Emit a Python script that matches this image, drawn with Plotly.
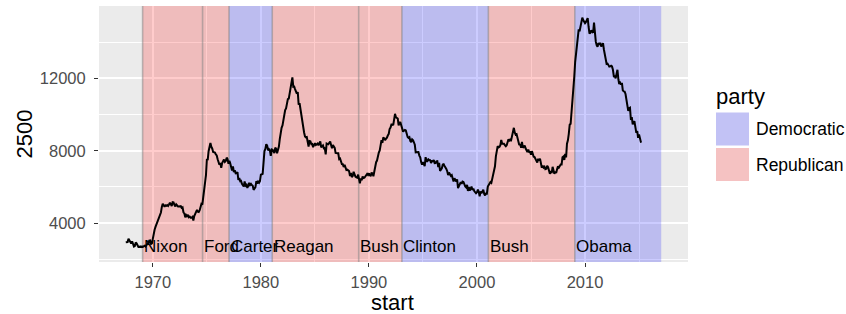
import pandas as pd
import plotly.graph_objects as go

# ---------------- data ----------------
series_start = "1967-07-01"
unemploy = [
    2944, 2945, 2958, 3143, 3066, 3018,
    2878, 3001, 2877, 2709, 2740, 2938, 2883, 2768, 2686, 2689, 2715, 2685,
    2718, 2692, 2712, 2758, 2713, 2816, 2868, 2856, 3040, 3049, 2856, 2884,
    3201, 3453, 3635, 3797, 3919, 4071, 4175, 4256, 4456, 4591, 4898, 5076,
    4986, 4903, 4987, 4959, 4996, 4949, 5035, 5134, 5042, 4954, 5161, 5154,
    5019, 4928, 5038, 4959, 4922, 4923, 4913, 4939, 4849, 4875, 4602, 4543,
    4326, 4452, 4394, 4459, 4329, 4363, 4305, 4305, 4350, 4144, 4396, 4489,
    4644, 4731, 4634, 4618, 4705, 4927, 5063, 5022, 5437, 5523, 6140, 6636,
    7501, 7520, 7978, 8210, 8433, 8220, 8127, 7928, 7923, 7897, 7794, 7744,
    7534, 7326, 7230, 7330, 7053, 7322, 7490, 7518, 7380, 7430, 7620, 7545,
    7280, 7443, 7307, 7059, 6911, 7134, 6829, 6925, 6751, 6763, 6815, 6386,
    6489, 6318, 6337, 6180, 6127, 6028, 6309, 6080, 6125, 5947, 6077, 6228,
    6109, 6173, 6109, 6069, 5840, 5959, 5996, 6320, 6190, 6296, 6238, 6325,
    6683, 6702, 6729, 7358, 7984, 8098, 8363, 8281, 8021, 8088, 8023, 7718,
    8071, 8051, 7982, 7869, 8174, 8098, 7863, 8036, 8230, 8646, 9029, 9267,
    9397, 9705, 9895, 10244, 10335, 10538, 10849, 10881, 11217, 11529, 11938, 12051,
    11534, 11545, 11408, 11268, 11154, 11246, 10548, 10623, 10282, 9887, 9499, 9331,
    9008, 8791, 8746, 8762, 8456, 8226, 8537, 8519, 8367, 8381, 8198, 8358,
    8423, 8321, 8339, 8395, 8302, 8460, 8513, 8196, 8248, 8298, 8128, 8138,
    7795, 8402, 8383, 8364, 8439, 8508, 8319, 8135, 8310, 8243, 8159, 7883,
    7892, 7865, 7862, 7542, 7574, 7398, 7268, 7261, 7102, 7227, 7035, 6936,
    6953, 6929, 6876, 6601, 6779, 6546, 6605, 6843, 6604, 6568, 6537, 6518,
    6682, 6359, 6205, 6468, 6375, 6577, 6495, 6511, 6590, 6630, 6725, 6667,
    6752, 6651, 6598, 6797, 6742, 6590, 6922, 7188, 7368, 7459, 7764, 7901,
    8015, 8265, 8586, 8439, 8736, 8692, 8586, 8666, 8722, 8842, 8931, 9198,
    9283, 9454, 9460, 9415, 9744, 10040, 9850, 9787, 9781, 9398, 9565, 9557,
    9325, 9183, 9056, 9110, 9149, 9121, 8930, 8763, 8714, 8750, 8542, 8477,
    8630, 8583, 8470, 8331, 7915, 7927, 7946, 7933, 7734, 7632, 7375, 7230,
    7375, 7187, 7153, 7645, 7430, 7427, 7527, 7484, 7478, 7328, 7426, 7423,
    7491, 7313, 7318, 7415, 7423, 7095, 7337, 6882, 6979, 7031, 7236, 7253,
    7158, 7102, 7000, 6873, 6655, 6799, 6655, 6608, 6656, 6454, 6308, 6476,
    6368, 6306, 6422, 5941, 6047, 6212, 6259, 6179, 6300, 6280, 6100, 6032,
    5976, 6111, 5783, 6004, 5796, 5951, 6025, 5838, 5915, 5778, 5716, 5653,
    5708, 5858, 5733, 5481, 5758, 5651, 5747, 5853, 5625, 5534, 5639, 5634,
    6023, 6089, 6141, 6271, 6226, 6484, 6583, 7042, 7142, 7694, 8003, 8258,
    8182, 8215, 8304, 8599, 8399, 8393, 8390, 8304, 8251, 8307, 8520, 8640,
    8520, 8618, 8588, 8842, 8957, 9266, 9011, 8896, 8921, 8732, 8576, 8317,
    8370, 8167, 8491, 8170, 8212, 8286, 8136, 7990, 7927, 8061, 7932, 7934,
    7784, 7980, 7737, 7672, 7651, 7524, 7406, 7345, 7553, 7453, 7566, 7279,
    7064, 7184, 7072, 7120, 6980, 7001, 7175, 7091, 6847, 6727, 6872, 6762,
    7116, 6927, 6731, 6850, 6766, 6979, 7149, 7067, 7170, 7237, 7240, 7645,
    7685, 7497, 7822, 7637, 8395, 8575, 8937, 9438, 9494, 10074, 10538, 11286,
    12058, 12898, 13426, 13853, 14499, 14707, 14601, 14814, 15009, 15352, 15219, 15098,
    15046, 15113, 15202, 15325, 14849, 14474, 14512, 14648, 14579, 14516, 15081, 14348,
    14013, 13820, 13737, 13957, 13855, 13962, 13763, 13818, 13948, 13594, 13302, 13093,
    12797, 12813, 12713, 12646, 12660, 12692, 12656, 12471, 12115, 12124, 12005, 12298,
    12471, 11950, 11689, 11760, 11654, 11751, 11335, 11279, 11270, 11136, 10787, 10404,
    10202, 10349, 10380, 9702, 9859, 9460, 9608, 9599, 9262, 8990, 9090, 8717,
    8903, 8610, 8504, 8526,
]
pres_names = ["Nixon", "Ford", "Carter", "Reagan", "Bush", "Clinton", "Bush", "Obama"]
pres_start = ["1969-01-20", "1974-08-09", "1977-01-20", "1981-01-20",
              "1989-01-20", "1993-01-20", "2001-01-20", "2009-01-20"]
pres_end = ["1974-08-09", "1977-01-20", "1981-01-20", "1989-01-20",
            "1993-01-20", "2001-01-20", "2009-01-20", "2017-01-20"]
pres_party = ["Republican", "Republican", "Democratic", "Republican",
              "Republican", "Democratic", "Republican", "Democratic"]
label_y = 2500
party_levels = ["Democratic", "Republican"]
y_ticks = [4000, 8000, 12000]
x_title, y_title, legend_title = "start", "2500", "party"

# ---------------- styling ----------------
W, H = 846, 314
ML, MR, MT, MB = 99, 158, 6, 52
FONT = "Liberation Sans, Arial, Helvetica, sans-serif"
fill_rgba = {"Democratic": "rgba(0,0,255,0.2)", "Republican": "rgba(255,0,0,0.2)"}
key_fill = {"Democratic": "rgb(194,194,245)", "Republican": "rgb(245,194,194)"}

dates = pd.date_range(series_start, periods=len(unemploy), freq="MS")
starts = pd.to_datetime(pres_start)
ends = pd.to_datetime(pres_end)

# ggplot-like 5% expansion
xmin = min(dates.min(), starts.min())
xmax = max(dates.max(), ends.max())
xpad = (xmax - xmin) * 0.05
ymin = min(min(unemploy), label_y)
ymax = max(unemploy)
ypad = (ymax - ymin) * 0.05
y_lo, y_hi = ymin - ypad, ymax + ypad

fig = go.Figure()

# presidential rectangles (ymin=-Inf, ymax=Inf) as filled traces above the grid
for s, e, p in zip(starts, ends, pres_party):
    fig.add_trace(go.Scatter(x=[s, s, e, e, s], y=[y_lo, y_hi, y_hi, y_lo, y_lo],
                             mode="lines", fill="toself", fillcolor=fill_rgba[p],
                             line=dict(width=0), showlegend=False, hoverinfo="skip"))
# vertical lines at term starts
for s in starts:
    fig.add_trace(go.Scatter(x=[s, s], y=[y_lo, y_hi], mode="lines",
                             line=dict(color="rgba(127,127,127,0.5)", width=1.6),
                             showlegend=False, hoverinfo="skip"))

fig.add_trace(go.Scatter(x=dates, y=unemploy, mode="lines",
                         line=dict(color="black", width=2), showlegend=False,
                         hoverinfo="skip"))

annotations = []
for n, s in zip(pres_names, starts):
    annotations.append(dict(x=s + pd.Timedelta(days=50), y=label_y, xref="x", yref="y",
                            text=n, showarrow=False, xanchor="left", yanchor="bottom",
                            yshift=-8, xshift=-2,
                            font=dict(family=FONT, size=17, color="black")))

# pixel -> paper helpers
pw, ph = W - ML - MR, H - MT - MB
def px(x):
    return (x - ML) / pw
def py(y):
    return (H - MB - y) / ph

# axis titles
annotations.append(dict(x=px(392), y=py(302), xref="paper", yref="paper", text=x_title,
                        showarrow=False, xanchor="center", yanchor="middle",
                        font=dict(family=FONT, size=22, color="black")))
annotations.append(dict(x=px(24), y=py(134.5), xref="paper", yref="paper", text=y_title,
                        showarrow=False, xanchor="center", yanchor="middle", textangle=-90,
                        font=dict(family=FONT, size=22, color="black")))

# manual legend
shapes = []
annotations.append(dict(x=px(714), y=py(96), xref="paper", yref="paper", text=legend_title,
                        showarrow=False, xanchor="left", yanchor="middle",
                        font=dict(family=FONT, size=22, color="black")))
key_top = 112.5
for i, p in enumerate(party_levels):
    y0 = key_top + i * 35.5
    shapes.append(dict(type="rect", xref="paper", yref="paper",
                       x0=px(716), x1=px(749), y0=py(y0 + 33), y1=py(y0),
                       fillcolor=key_fill[p], line=dict(width=0)))
    annotations.append(dict(x=px(754), y=py(y0 + 16.5), xref="paper", yref="paper", text=p,
                            showarrow=False, xanchor="left", yanchor="middle",
                            font=dict(family=FONT, size=17.5, color="black")))

fig.update_layout(
    width=W, height=H,
    margin=dict(l=ML, r=MR, t=MT, b=MB, pad=0, autoexpand=False),
    paper_bgcolor="white", plot_bgcolor="#EBEBEB",
    showlegend=False,
    shapes=shapes, annotations=annotations,
    font=dict(family=FONT),
)
fig.update_xaxes(
    type="date", range=[xmin - xpad, xmax + xpad], automargin=False,
    tickmode="linear", tick0="1970-01-01", dtick="M120", tickformat="%Y",
    showgrid=True, gridcolor="white", gridwidth=1.6,
    minor=dict(tick0="1965-01-01", dtick="M120",
               showgrid=True, gridcolor="white", gridwidth=0.8, ticklen=0),
    ticks="outside", ticklen=4, tickwidth=1.1, tickcolor="#333333",
    tickfont=dict(family=FONT, size=16.5, color="#4D4D4D"),
    ticklabelstandoff=1,
    zeroline=False, showline=False,
)
fig.update_yaxes(
    range=[y_lo, y_hi], automargin=False,
    tickmode="array", tickvals=y_ticks, ticktext=[str(v) for v in y_ticks],
    showgrid=True, gridcolor="white", gridwidth=1.6,
    minor=dict(tick0=2000, dtick=4000,
               showgrid=True, gridcolor="white", gridwidth=0.8, ticklen=0),
    ticks="outside", ticklen=4, tickwidth=1.1, tickcolor="#333333",
    tickfont=dict(family=FONT, size=16.5, color="#4D4D4D"),
    ticklabelstandoff=5,
    zeroline=False, showline=False,
)

fig.write_html("out.html", config={"displayModeBar": False},
               post_script="document.body.style.margin='0';document.body.style.overflow='hidden';")
